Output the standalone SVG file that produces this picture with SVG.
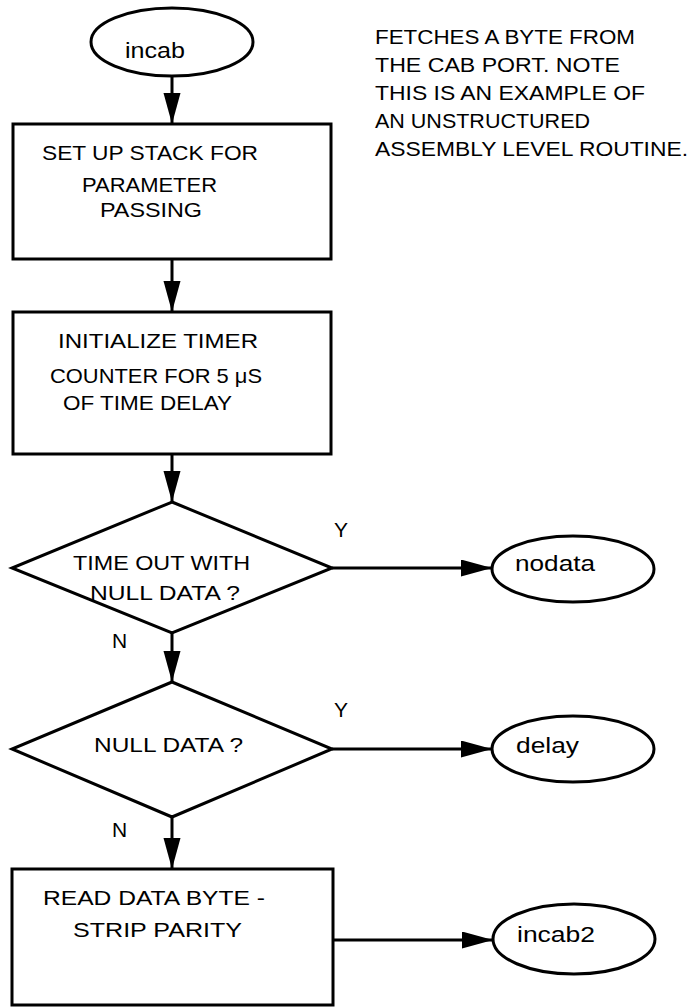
<svg xmlns="http://www.w3.org/2000/svg" width="692" height="1007" viewBox="0 0 692 1007">
  <style>
    .shape { fill: #fff; stroke: #000; stroke-width: 3; }
    .wire { fill: none; stroke: #000; stroke-width: 3; }
    text { font-family: "Liberation Sans", Arial, sans-serif; fill: #000; }
    .lbl { font-size: 21px; }
    .note { font-size: 20px; }
    .term { font-size: 22px; }
  </style>
  <defs>
    <marker id="arrow" markerUnits="userSpaceOnUse" markerWidth="32" markerHeight="18" refX="31" refY="8.5" orient="auto">
      <path d="M0,0 L31,8.5 L0,17 Z" fill="#000"/>
    </marker>
  </defs>
  <rect width="692" height="1007" fill="#fff"/>

  <!-- routine description -->
  <g id="note">
    <text class="note" x="375" y="44" textLength="260" lengthAdjust="spacingAndGlyphs">FETCHES A BYTE FROM</text>
    <text class="note" x="375" y="72" textLength="245" lengthAdjust="spacingAndGlyphs">THE CAB PORT.  NOTE</text>
    <text class="note" x="375" y="100" textLength="270" lengthAdjust="spacingAndGlyphs">THIS IS AN EXAMPLE OF</text>
    <text class="note" x="375" y="128" textLength="215" lengthAdjust="spacingAndGlyphs">AN UNSTRUCTURED</text>
    <text class="note" x="375" y="156" textLength="313" lengthAdjust="spacingAndGlyphs">ASSEMBLY LEVEL ROUTINE.</text>
  </g>

  <!-- connectors -->
  <g id="connectors" class="wire">
    <line x1="172" y1="76" x2="172" y2="124" marker-end="url(#arrow)"/>
    <line x1="172" y1="259" x2="172" y2="312" marker-end="url(#arrow)"/>
    <line x1="172" y1="454" x2="172" y2="502" marker-end="url(#arrow)"/>
    <line x1="172" y1="633" x2="172" y2="682" marker-end="url(#arrow)"/>
    <line x1="172" y1="817" x2="172" y2="869" marker-end="url(#arrow)"/>
    <line x1="332" y1="568" x2="492" y2="568" marker-end="url(#arrow)"/>
    <line x1="332" y1="749" x2="492" y2="749" marker-end="url(#arrow)"/>
    <line x1="333" y1="940" x2="493" y2="940" marker-end="url(#arrow)"/>
  </g>

  <g id="incab">
    <ellipse class="shape" cx="172" cy="42" rx="81" ry="34"/>
    <text class="term" x="125" y="58" textLength="60" lengthAdjust="spacingAndGlyphs">incab</text>
  </g>

  <g id="setup-stack">
    <rect class="shape" x="13" y="124" width="318" height="135"/>
    <text class="lbl" x="42" y="160" textLength="216" lengthAdjust="spacingAndGlyphs">SET UP STACK FOR</text>
    <text class="lbl" x="82" y="192" textLength="135" lengthAdjust="spacingAndGlyphs">PARAMETER</text>
    <text class="lbl" x="100" y="217" textLength="102" lengthAdjust="spacingAndGlyphs">PASSING</text>
  </g>

  <g id="init-timer">
    <rect class="shape" x="13" y="312" width="318" height="142"/>
    <text class="lbl" x="58" y="348" textLength="200" lengthAdjust="spacingAndGlyphs">INITIALIZE TIMER</text>
    <text class="lbl" x="50" y="383" textLength="212" lengthAdjust="spacingAndGlyphs">COUNTER FOR 5 μS</text>
    <text class="lbl" x="63" y="410" textLength="169" lengthAdjust="spacingAndGlyphs">OF TIME DELAY</text>
  </g>

  <g id="timeout-test">
    <polygon class="shape" points="172,502 332,568 172,633 12,568"/>
    <text class="lbl" x="73" y="570" textLength="177" lengthAdjust="spacingAndGlyphs">TIME OUT WITH</text>
    <text class="lbl" x="90" y="600" textLength="150" lengthAdjust="spacingAndGlyphs">NULL DATA ?</text>
    <text class="lbl" x="334" y="537">Y</text>
    <text class="lbl" x="112" y="648">N</text>
  </g>

  <g id="null-test">
    <polygon class="shape" points="172,682 332,749 172,817 12,749"/>
    <text class="lbl" x="94" y="752" textLength="149" lengthAdjust="spacingAndGlyphs">NULL DATA ?</text>
    <text class="lbl" x="334" y="717">Y</text>
    <text class="lbl" x="112" y="837">N</text>
  </g>

  <g id="read-byte">
    <rect class="shape" x="12" y="869" width="321" height="136"/>
    <text class="lbl" x="43" y="905" textLength="222" lengthAdjust="spacingAndGlyphs">READ DATA BYTE -</text>
    <text class="lbl" x="73" y="937" textLength="169" lengthAdjust="spacingAndGlyphs">STRIP PARITY</text>
  </g>

  <g id="nodata">
    <ellipse class="shape" cx="573" cy="569" rx="81" ry="33"/>
    <text class="term" x="515" y="571" textLength="80" lengthAdjust="spacingAndGlyphs">nodata</text>
  </g>

  <g id="delay">
    <ellipse class="shape" cx="573" cy="749" rx="81" ry="33"/>
    <text class="term" x="516" y="753" textLength="63" lengthAdjust="spacingAndGlyphs">delay</text>
  </g>

  <g id="incab2">
    <ellipse class="shape" cx="574" cy="939" rx="81" ry="35"/>
    <text class="term" x="517" y="942" textLength="78" lengthAdjust="spacingAndGlyphs">incab2</text>
  </g>
</svg>
